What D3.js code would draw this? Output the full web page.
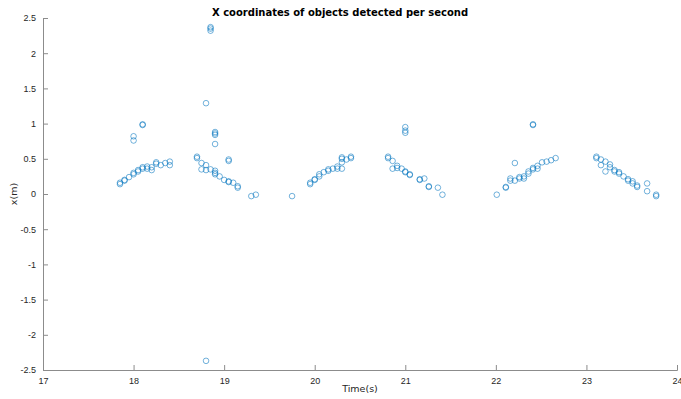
<!DOCTYPE html>
<html>
<head>
<meta charset="utf-8">
<script src="https://cdn.jsdelivr.net/npm/d3@7"></script>
<style>
  body { margin: 0; background: #fff; }
  svg { display: block; font-family: "DejaVu Sans", sans-serif; }
  .tick text { fill: #262626; font-size: 9px; }
</style>
</head>
<body>
<svg width="681" height="399"></svg>
<script>
// time stamps (s) and x coordinate (m) of each detection
var timeS = [
  17.85,17.85,17.90,17.90,17.95,18.00,18.00,18.05,18.05,18.10,18.10,18.15,18.15,18.20,18.20,18.25,18.25,18.30,18.35,18.40,18.40,
  18.00,18.00,18.10,18.10,18.80,
  18.70,18.70,18.75,18.80,18.75,18.80,18.85,18.90,18.90,18.90,18.95,19.00,19.05,19.05,19.10,19.15,19.15,
  18.90,18.90,18.90,18.90,19.05,19.05,19.30,19.35,19.75,18.85,18.85,18.85,18.80,
  19.95,19.95,20.00,20.00,20.05,20.05,20.10,20.15,20.15,20.20,20.25,20.25,20.30,20.30,20.30,20.30,20.35,20.40,20.40,
  20.81,20.81,20.86,20.86,20.91,20.91,20.96,21.00,21.00,21.05,21.05,21.16,21.16,21.21,21.26,21.26,21.36,21.41,
  21.00,21.00,21.00,
  22.01,22.11,22.11,22.16,22.16,22.21,22.21,22.26,22.26,22.31,22.31,22.36,22.36,22.41,22.41,22.46,22.46,22.51,22.56,22.61,22.66,
  22.41,22.41,
  23.11,23.11,23.16,23.16,23.21,23.21,23.26,23.26,23.31,23.31,23.36,23.36,23.41,23.46,23.46,23.51,23.51,23.56,23.56,23.67,23.67,23.77,23.77
];
var xM = [
  0.14,0.16,0.20,0.19,0.24,0.28,0.30,0.32,0.34,0.36,0.38,0.36,0.39,0.38,0.34,0.43,0.45,0.41,0.44,0.46,0.41,
  0.82,0.76,0.98,0.99,1.29,
  0.53,0.51,0.44,0.41,0.35,0.34,0.35,0.33,0.30,0.28,0.25,0.20,0.17,0.18,0.16,0.09,0.11,
  0.84,0.86,0.88,0.71,0.47,0.49,-0.03,-0.01,-0.03,2.37,2.35,2.32,-2.37,
  0.14,0.16,0.20,0.21,0.25,0.28,0.31,0.33,0.35,0.36,0.39,0.36,0.50,0.45,0.36,0.52,0.49,0.53,0.51,
  0.53,0.51,0.47,0.36,0.40,0.37,0.36,0.31,0.32,0.27,0.28,0.20,0.21,0.22,0.10,0.11,0.09,-0.01,
  0.95,0.90,0.87,
  -0.01,0.09,0.10,0.22,0.19,0.19,0.44,0.22,0.24,0.25,0.22,0.32,0.29,0.35,0.37,0.40,0.36,0.45,0.46,0.48,0.51,
  0.98,0.99,
  0.53,0.51,0.49,0.41,0.46,0.32,0.42,0.38,0.34,0.32,0.31,0.29,0.25,0.21,0.19,0.18,0.15,0.12,0.10,0.15,0.04,-0.01,-0.03
];
var xTicks = [17, 18, 19, 20, 21, 22, 23, 24];
var yTicks = [-2.5, -2, -1.5, -1, -0.5, 0, 0.5, 1, 1.5, 2, 2.5];

var svg = d3.select("svg");
var plotLeft = 43, plotRight = 677, plotTop = 18, plotBottom = 370;

var x = d3.scaleLinear().domain([17, 24]).range([plotLeft, plotRight]);
var y = d3.scaleLinear().domain([-2.5, 2.5]).range([plotBottom, plotTop]);

// axes (MATLAB style, ticks pointing inward)
svg.append("g")
  .attr("transform", "translate(0," + plotBottom + ")")
  .call(d3.axisBottom(x).tickValues(xTicks).tickSize(-5).tickPadding(8).tickFormat(d3.format("d")));
svg.append("g")
  .attr("transform", "translate(" + plotLeft + ",0)")
  .call(d3.axisLeft(y).tickValues(yTicks).tickSize(-5).tickPadding(7).tickFormat(d => d));

svg.selectAll(".domain").attr("stroke", "#8c8c8c");
svg.selectAll(".tick line").attr("stroke", "#8c8c8c");

// points
var pts = timeS.map((t, i) => [t, xM[i]]);
svg.append("g").selectAll("circle")
  .data(pts)
  .enter().append("circle")
  .attr("cx", d => x(d[0]))
  .attr("cy", d => y(d[1]))
  .attr("r", 2.8)
  .attr("fill", "none")
  .attr("stroke", "#0072bd")
  .attr("stroke-opacity", 0.55)
  .attr("stroke-width", 1);

// labels
svg.append("text")
  .attr("x", 340).attr("y", 16)
  .attr("text-anchor", "middle")
  .style("font-size", "10px").style("font-weight", "bold").attr("fill", "#000")
  .text("X coordinates of objects detected per second");

svg.append("text")
  .attr("x", (plotLeft + plotRight) / 2).attr("y", 392)
  .attr("text-anchor", "middle")
  .style("font-size", "9.5px").attr("fill", "#262626")
  .text("Time(s)");

svg.append("text")
  .attr("transform", "translate(17," + y(0) + ") rotate(-90)")
  .attr("text-anchor", "middle")
  .style("font-size", "9.5px").attr("fill", "#262626")
  .text("x(m)");
</script>
</body>
</html>
